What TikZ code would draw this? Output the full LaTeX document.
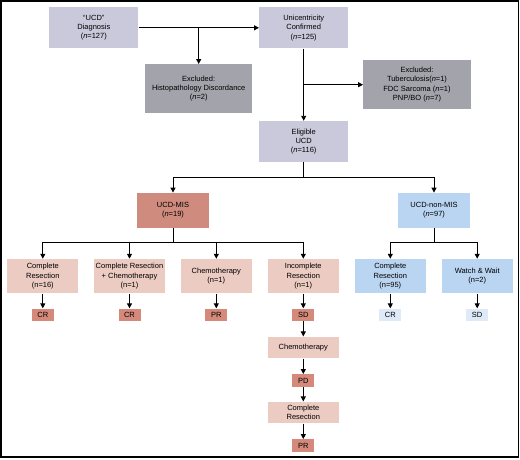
\documentclass[tikz,border=0pt]{standalone}
\usepackage{fontspec}
\setmainfont{Liberation Sans}
\usetikzlibrary{arrows.meta}
\definecolor{topc}{HTML}{C9C9DB}
\definecolor{exc}{HTML}{A3A3AB}
\definecolor{mis}{HTML}{CF8B7E}
\definecolor{misl}{HTML}{EBCBC2}
\definecolor{misr}{HTML}{D4897B}
\definecolor{nmis}{HTML}{BAD5F1}
\definecolor{nmisr}{HTML}{DEEAF8}
\tikzset{
  box/.style={inner sep=0pt, align=center, font=\fontsize{7.5}{9.3}\selectfont, text=black},
  topbox/.style={box, fill=topc, minimum width=89pt, minimum height=41pt},
  excbox/.style={box, fill=exc, minimum width=107.5pt, minimum height=49pt},
  misbox/.style={box, fill=mis, minimum width=72pt, minimum height=35pt},
  nmisbox/.style={box, fill=nmis, minimum width=72pt, minimum height=35pt},
  tx/.style={box, minimum width=71pt, minimum height=34.5pt},
  txs/.style={box, minimum width=71pt, minimum height=21.7pt},
  res/.style={box, minimum width=22pt, minimum height=12.5pt},
  ln/.style={line width=0.9pt, black},
  arr/.style={ln, -{Triangle[length=5pt,width=5pt]}}
}
\begin{document}
\begin{tikzpicture}[x=1pt,y=-1pt]
\useasboundingbox (0,0) rectangle (520,459);
\draw[line width=1.6pt] (0.8,0.8) rectangle (518.6,457.2);
% top
\node[topbox] (diag) at (93.8,27.8) {“UCD”\\Diagnosis\\(\textit{n}=127)};
\node[topbox] (uni) at (303.7,27.8) {Unicentricity\\Confirmed\\(\textit{n}=125)};
\node[excbox] (ex1) at (198.7,88.7) {Excluded:\\Histopathology Discordance\\(\textit{n}=2)};
\node[excbox] (ex2) at (417,84.7) {Excluded:\\Tuberculosis(\textit{n}=1)\\FDC Sarcoma (\textit{n}=1)\\PNP/BO (\textit{n}=7)};
\node[topbox] (elig) at (303.7,141.5) {Eligible\\UCD\\(\textit{n}=116)};
\node[misbox] (mis) at (173,210.3) {UCD-MIS\\(\textit{n}=19)};
\node[nmisbox] (nmis) at (434,210.3) {UCD-non-MIS\\(\textit{n}=97)};
% row 3
\node[tx, fill=misl] (t1) at (42.8,276.2) {Complete\\Resection\\(n=16)};
\node[tx, fill=misl] (t2) at (129.5,276.2) {Complete Resection\\+ Chemotherapy\\(n=1)};
\node[tx, fill=misl] (t3) at (216.3,276.2) {Chemotherapy\\(n=1)};
\node[tx, fill=misl] (t4) at (303.3,276.2) {Incomplete\\Resection\\(n=1)};
\node[tx, fill=nmis] (t5) at (390.3,276.2) {Complete\\Resection\\(n=95)};
\node[tx, fill=nmis] (t6) at (477.2,276.2) {Watch \& Wait\\(n=2)};
% results
\node[res, fill=misr] (r1) at (42.8,314.8) {CR};
\node[res, fill=misr] (r2) at (129.5,314.8) {CR};
\node[res, fill=misr] (r3) at (216.3,314.8) {PR};
\node[res, fill=misr] (r4) at (303.3,314.8) {SD};
\node[res, fill=nmisr] (r5) at (390.3,314.8) {CR};
\node[res, fill=nmisr] (r6) at (477.2,314.8) {SD};
\node[txs, fill=misl] (c2) at (303.3,347.5) {Chemotherapy};
\node[res, fill=misr] (pd) at (303.3,380.5) {PD};
\node[txs, fill=misl] (cr2) at (303.3,412.5) {Complete\\Resection};
\node[res, fill=misr] (pr) at (303.3,445.5) {PR};
% connectors top
\coordinate (j1) at (198.7,27.8);
\draw[arr] (diag.east) -- (uni.west);
\draw[arr] (j1) -- (ex1.north);
\coordinate (j2) at (303.7,84.7);
\draw[arr] (uni.south) -- (elig.north);
\draw[arr] (j2) -- (ex2.west);
% to MIS / non-MIS
\coordinate (b1) at (303.7,177);
\draw[ln] (elig.south) -- (b1);
\draw[arr] (b1) -| (mis.north);
\draw[arr] (b1) -| (nmis.north);
% MIS bus
\coordinate (b2) at (173,242.3);
\draw[ln] (mis.south) -- (b2);
\draw[arr] (b2) -| (t1.north);
\draw[arr] (b2) -| (t2.north);
\draw[arr] (b2) -| (t3.north);
\draw[arr] (b2) -| (t4.north);
% non-MIS bus
\coordinate (b3) at (434,242.3);
\draw[ln] (nmis.south) -- (b3);
\draw[arr] (b3) -| (t5.north);
\draw[arr] (b3) -| (t6.north);
% results
\draw[arr] (t1) -- (r1);
\draw[arr] (t2) -- (r2);
\draw[arr] (t3) -- (r3);
\draw[arr] (t4) -- (r4);
\draw[arr] (t5) -- (r5);
\draw[arr] (t6) -- (r6);
\draw[arr] (r4) -- (c2);
\draw[arr] (c2) -- (pd);
\draw[arr] (pd) -- (cr2);
\draw[arr] (cr2) -- (pr);
\end{tikzpicture}
\end{document}
